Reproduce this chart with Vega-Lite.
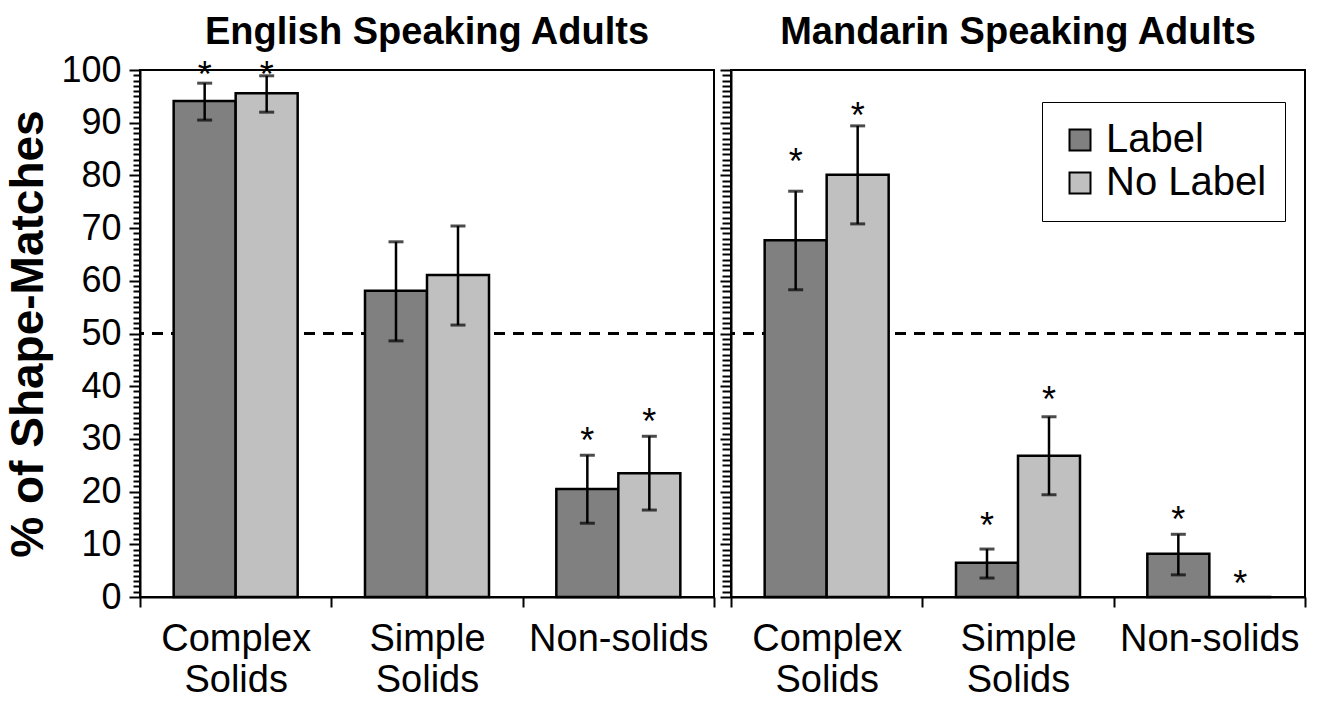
{
  "$schema": "https://vega.github.io/schema/vega-lite/v6.json",
  "background": "white",
  "padding": {"left": 4, "top": 13, "right": 5, "bottom": 5},
  "bounds": "flush",
  "spacing": 17,
  "datasets": {
    "english": [
      {"category": "Complex Solids", "condition": "Label", "pct": 94.1, "lo": 90.5, "hi": 97.5, "star": 100.8},
      {"category": "Complex Solids", "condition": "No Label", "pct": 95.6, "lo": 92.0, "hi": 98.9, "star": 100.8},
      {"category": "Simple Solids", "condition": "Label", "pct": 58.1, "lo": 48.6, "hi": 67.4, "star": null},
      {"category": "Simple Solids", "condition": "No Label", "pct": 61.1, "lo": 51.6, "hi": 70.4, "star": null},
      {"category": "Non-solids", "condition": "Label", "pct": 20.5, "lo": 14.0, "hi": 26.9, "star": 31.3},
      {"category": "Non-solids", "condition": "No Label", "pct": 23.5, "lo": 16.5, "hi": 30.5, "star": 34.9}
    ],
    "mandarin": [
      {"category": "Complex Solids", "condition": "Label", "pct": 67.7, "lo": 58.3, "hi": 77.0, "star": 84.3},
      {"category": "Complex Solids", "condition": "No Label", "pct": 80.1, "lo": 70.8, "hi": 89.4, "star": 93.0},
      {"category": "Simple Solids", "condition": "Label", "pct": 6.5, "lo": 3.6, "hi": 9.1, "star": 15.2},
      {"category": "Simple Solids", "condition": "No Label", "pct": 26.8, "lo": 19.4, "hi": 34.2, "star": 39.1},
      {"category": "Non-solids", "condition": "Label", "pct": 8.2, "lo": 4.2, "hi": 11.9, "star": 16.3},
      {"category": "Non-solids", "condition": "No Label", "pct": 0, "lo": null, "hi": null, "star": 4.2}
    ]
  },
  "hconcat": [
    {
      "width": 574,
      "height": 527,
      "title": {"text": "English Speaking Adults", "offset": 0},
      "data": {"name": "english"},
      "layer": [
        {
          "mark": {"type": "rule", "strokeDash": [11, 8], "strokeWidth": 2, "color": "black"},
          "encoding": {
            "y": {"datum": 50, "type": "quantitative", "scale": {"domain": [0, 100], "nice": false},
              "axis": {
                "title": "% of Shape-Matches", "tickCount": 100, "labelOverlap": false,
                "labelExpr": "datum.value % 10 === 0 ? datum.label : ''",
                "tickSize": {"condition": {"test": "datum.value % 10 === 0", "value": 11}, "value": 7}
              }
            }
          }
        },
        {
          "mark": {"type": "bar", "stroke": "black", "strokeWidth": 2.5},
          "encoding": {
            "x": {
              "field": "category", "type": "nominal", "sort": ["Complex Solids", "Simple Solids", "Non-solids"],
              "scale": {"paddingInner": 0, "paddingOuter": 0},
              "axis": {"title": null, "labelAngle": 0, "labelExpr": "isValid(datum.value) ? split(datum.value, ' ') : ''", "tickBand": "extent"}
            },
            "xOffset": {"field": "condition", "type": "nominal", "sort": ["Label", "No Label"], "scale": {"paddingInner": 0, "paddingOuter": 0.543}},
            "y": {"field": "pct", "type": "quantitative"},
            "color": {"field": "condition", "type": "nominal", "scale": {"domain": ["Label", "No Label"], "range": ["#808080", "#c0c0c0"]}, "legend": null}
          }
        },
        {
          "mark": {"type": "rule", "color": "black", "strokeWidth": 2.5},
          "encoding": {
            "x": {"field": "category", "type": "nominal", "sort": ["Complex Solids", "Simple Solids", "Non-solids"]},
            "xOffset": {"field": "condition", "type": "nominal", "sort": ["Label", "No Label"]},
            "y": {"field": "lo", "type": "quantitative"}, "y2": {"field": "hi"}
          }
        },
        {
          "mark": {"type": "tick", "orient": "horizontal", "color": "black", "size": 15, "thickness": 3},
          "encoding": {
            "x": {"field": "category", "type": "nominal", "sort": ["Complex Solids", "Simple Solids", "Non-solids"]},
            "xOffset": {"field": "condition", "type": "nominal", "sort": ["Label", "No Label"]},
            "y": {"field": "lo", "type": "quantitative"}
          }
        },
        {
          "mark": {"type": "tick", "orient": "horizontal", "color": "black", "size": 15, "thickness": 3},
          "encoding": {
            "x": {"field": "category", "type": "nominal", "sort": ["Complex Solids", "Simple Solids", "Non-solids"]},
            "xOffset": {"field": "condition", "type": "nominal", "sort": ["Label", "No Label"]},
            "y": {"field": "hi", "type": "quantitative"}
          }
        },
        {
          "mark": {"type": "text", "text": "*", "fontSize": 36, "baseline": "middle", "dy": 10, "color": "black"},
          "encoding": {
            "x": {"field": "category", "type": "nominal", "sort": ["Complex Solids", "Simple Solids", "Non-solids"]},
            "xOffset": {"field": "condition", "type": "nominal", "sort": ["Label", "No Label"]},
            "y": {"field": "star", "type": "quantitative"}
          }
        }
      ]
    },
    {
      "width": 574,
      "height": 527,
      "title": {"text": "Mandarin Speaking Adults", "offset": 17},
      "data": {"name": "mandarin"},
      "layer": [
        {
          "mark": {"type": "rule", "strokeDash": [11, 8], "strokeWidth": 2, "color": "black"},
          "encoding": {
            "y": {"datum": 50, "type": "quantitative", "scale": {"domain": [0, 100], "nice": false},
              "axis": {
                "title": null, "tickCount": 100, "labels": false,
                "tickSize": {"condition": {"test": "datum.value % 10 === 0", "value": 11}, "value": 9}
              }
            }
          }
        },
        {
          "mark": {"type": "bar", "stroke": "black", "strokeWidth": 2.5},
          "encoding": {
            "x": {
              "field": "category", "type": "nominal", "sort": ["Complex Solids", "Simple Solids", "Non-solids"],
              "scale": {"paddingInner": 0, "paddingOuter": 0},
              "axis": {"title": null, "labelAngle": 0, "labelExpr": "isValid(datum.value) ? split(datum.value, ' ') : ''", "tickBand": "extent"}
            },
            "xOffset": {"field": "condition", "type": "nominal", "sort": ["Label", "No Label"], "scale": {"paddingInner": 0, "paddingOuter": 0.543}},
            "y": {"field": "pct", "type": "quantitative"},
            "color": {
              "field": "condition", "type": "nominal",
              "scale": {"domain": ["Label", "No Label"], "range": ["#808080", "#c0c0c0"]},
              "legend": {
                "title": null, "orient": "none", "legendX": 311, "legendY": 32,
                "symbolType": "square", "symbolSize": 441, "symbolStrokeColor": "black", "symbolStrokeWidth": 2,
                "labelFontSize": 40, "labelOffset": 6, "rowPadding": 3, "labelLimit": 400,
                "padding": 18, "strokeColor": "black", "fillColor": "white",
                "labelColor": "black"
              }
            }
          }
        },
        {
          "mark": {"type": "rule", "color": "black", "strokeWidth": 2.5},
          "encoding": {
            "x": {"field": "category", "type": "nominal", "sort": ["Complex Solids", "Simple Solids", "Non-solids"]},
            "xOffset": {"field": "condition", "type": "nominal", "sort": ["Label", "No Label"]},
            "y": {"field": "lo", "type": "quantitative"}, "y2": {"field": "hi"}
          }
        },
        {
          "mark": {"type": "tick", "orient": "horizontal", "color": "black", "size": 15, "thickness": 3},
          "encoding": {
            "x": {"field": "category", "type": "nominal", "sort": ["Complex Solids", "Simple Solids", "Non-solids"]},
            "xOffset": {"field": "condition", "type": "nominal", "sort": ["Label", "No Label"]},
            "y": {"field": "lo", "type": "quantitative"}
          }
        },
        {
          "mark": {"type": "tick", "orient": "horizontal", "color": "black", "size": 15, "thickness": 3},
          "encoding": {
            "x": {"field": "category", "type": "nominal", "sort": ["Complex Solids", "Simple Solids", "Non-solids"]},
            "xOffset": {"field": "condition", "type": "nominal", "sort": ["Label", "No Label"]},
            "y": {"field": "hi", "type": "quantitative"}
          }
        },
        {
          "mark": {"type": "text", "text": "*", "fontSize": 36, "baseline": "middle", "dy": 10, "color": "black"},
          "encoding": {
            "x": {"field": "category", "type": "nominal", "sort": ["Complex Solids", "Simple Solids", "Non-solids"]},
            "xOffset": {"field": "condition", "type": "nominal", "sort": ["Label", "No Label"]},
            "y": {"field": "star", "type": "quantitative"}
          }
        }
      ]
    }
  ],
  "resolve": {"scale": {"x": "independent", "color": "independent"}, "legend": {"color": "independent"}},
  "config": {
    "font": "Liberation Sans",
    "view": {"stroke": "black", "strokeWidth": 2},
    "title": {"fontSize": 38, "fontWeight": "bold", "color": "black", "anchor": "middle", "frame": "group"},
    "axis": {
      "domainColor": "black", "domainWidth": 2, "tickColor": "black", "tickWidth": 2,
      "labelColor": "black", "titleColor": "black", "grid": false
    },
    "axisX": {"labelFontSize": 38, "labelLineHeight": 41, "labelPadding": 13, "tickSize": 10},
    "axisY": {"labelFontSize": 36, "labelPadding": 8, "titleFontSize": 46, "titleFontWeight": "bold", "titlePadding": 8}
  }
}
